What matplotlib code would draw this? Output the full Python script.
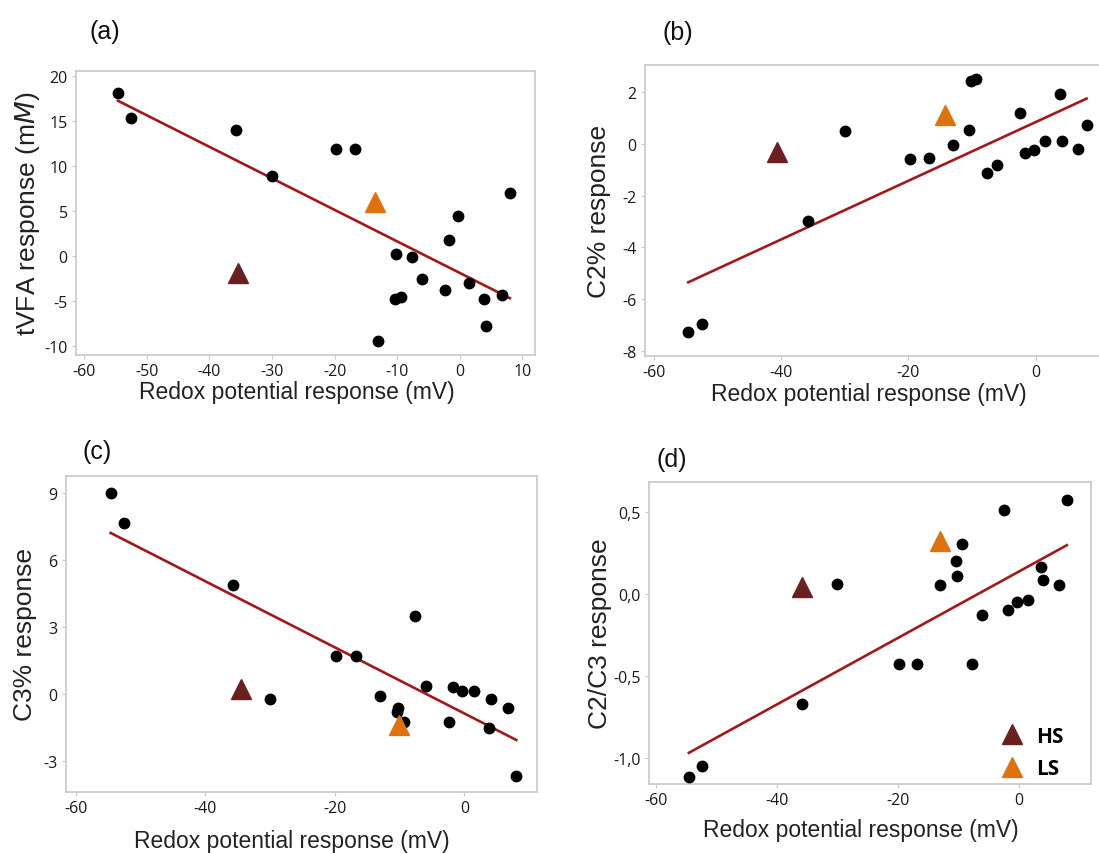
import matplotlib
matplotlib.use('Agg')
import matplotlib.pyplot as plt
from matplotlib.lines import Line2D

plt.rcParams['axes.unicode_minus'] = False
plt.rcParams['font.family'] = ['Liberation Sans', 'DejaVu Sans']

# redox potential response (mV), shared by all panels
redox = [-54.6, -52.5, -35.8, -30.0, -19.8, -16.8, -13.0, -10.4, -10.2, -9.4,
         -7.7, -6.0, -2.4, -1.7, -0.3, 1.5, 3.8, 4.1, 6.7, 8.0]

tvfa = [18.1, 15.3, 14.0, 8.9, 11.9, 11.9, -9.5, -4.8, 0.2, -4.6,
        -0.1, -2.6, -3.8, 1.7, 4.4, -3.0, -4.8, -7.8, -4.4, 7.0]
c2 = [-7.26, -6.96, -2.97, 0.48, -0.60, -0.54, -0.05, 0.55, 2.43, 2.49,
      -1.13, -0.81, 1.20, -0.37, -0.25, 0.10, 1.91, 0.13, -0.19, 0.74]
c3 = [8.97, 7.66, 4.89, -0.24, 1.70, 1.70, -0.09, -0.80, -0.63, -1.25,
      3.49, 0.36, -1.28, 0.31, 0.12, 0.12, -1.52, -0.24, -0.63, -3.68]
c2c3 = [-1.12, -1.05, -0.67, 0.06, -0.43, -0.43, 0.05, 0.20, 0.11, 0.30,
        -0.43, -0.13, 0.51, -0.10, -0.05, -0.04, 0.16, 0.08, 0.05, 0.57]

# group means (HS / LS) per panel: (x, y)
hs_pts = [(-35.4, -1.95), (-40.6, -0.30), (-34.5, 0.20), (-35.8, 0.04)]
ls_pts = [(-13.6, 6.0), (-14.3, 1.10), (-10.1, -1.38), (-13.0, 0.32)]

# fitted line end points per panel
fit_x = [-54.6, 8.0]
fit_y = [[17.2, -4.7], [-5.35, 1.75], [7.2, -2.07], [-0.97, 0.295]]

ylabels = ['tVFA response (m$\\it{M}$)', 'C2% response', 'C3% response', 'C2/C3 response']
panel_tags = ['(a)', '(b)', '(c)', '(d)']
xticks = [[-60, -50, -40, -30, -20, -10, 0, 10], [-60, -40, -20, 0],
          [-60, -40, -20, 0], [-60, -40, -20, 0]]
yticks = [[-10, -5, 0, 5, 10, 15, 20], [-8, -6, -4, -2, 0, 2],
          [-3, 0, 3, 6, 9], [-1.0, -0.5, 0.0, 0.5]]
xlims = [(-61.3, 12.0), (-61.4, 12.0), (-61.5, 11.2), (-61.2, 12.0)]
ylims = [(-11.0, 20.5), (-8.2, 3.05), (-4.4, 9.75), (-1.16, 0.68)]
series = [tvfa, c2, c3, c2c3]

W, H = 1099, 854
# axes boxes in pixels: left, right, top, bottom
boxes = [(76, 535, 72, 356), (645, 1112, 66, 357), (66, 537, 477, 793), (649, 1091, 483, 785)]
tag_pos = [(105, 32), (678, 33), (97, 452), (672, 460)]
ylab_x = [28, 599, 25, 600]
xlab_y = [393, 395, 842, 831]

fig = plt.figure(figsize=(W / 100, H / 100), dpi=100)

HS_COL = '#6b2020'
LS_COL = '#e0720e'
LINE_COL = '#a31818'
FRAME = '#c8c8c8'

for i in range(4):
    l, r, t, b = boxes[i]
    ax = fig.add_axes([l / W, (H - b) / H, (r - l) / W, (b - t) / H])
    ax.plot(fit_x, fit_y[i], '-', color=LINE_COL, lw=1.9, zorder=2)
    ax.plot(redox, series[i], 'o', color='black', ms=7.5, zorder=3)
    ax.plot(hs_pts[i][0], hs_pts[i][1], '^', color=HS_COL, ms=15, zorder=4)
    ax.plot(ls_pts[i][0], ls_pts[i][1], '^', color=LS_COL, ms=15, zorder=4)

    ax.set_xlim(xlims[i])
    ax.set_ylim(ylims[i])
    ax.set_xticks(xticks[i])
    ax.set_yticks(yticks[i])
    if i == 3:
        ax.set_yticklabels([('%.1f' % v).replace('.', ',') for v in yticks[i]])
    for s in ax.spines.values():
        s.set_color(FRAME)
        s.set_linewidth(1.2)
    ax.tick_params(direction='out', length=3, color=FRAME, labelsize=11.5,
                   labelcolor='#1a1a1a', pad=3)
    for lab in ax.get_xticklabels() + ax.get_yticklabels():
        lab.set_family(['Open Sans', 'DejaVu Sans'])

    ax.set_ylabel(ylabels[i], fontsize=19, color='#222222', va='center')
    ax.yaxis.set_label_coords((ylab_x[i] - l) / (r - l), 0.5)
    ax.set_xlabel('Redox potential response (mV)', fontsize=16.5, color='#222222', va='center')
    ax.xaxis.set_label_coords(0.48, (b - xlab_y[i]) / (b - t))

    fig.text(tag_pos[i][0] / W, 1 - tag_pos[i][1] / H, panel_tags[i],
             fontsize=18, ha='center', va='center', color='#111111')

    if i == 3:
        handles = [Line2D([], [], ls='none', marker='^', color=HS_COL, ms=15),
                   Line2D([], [], ls='none', marker='^', color=LS_COL, ms=15)]
        ax.legend(handles, ['HS', 'LS'], loc='lower right', frameon=False,
                  bbox_to_anchor=((1064 - l) / (r - l), (b - 780) / (b - t)),
                  prop={'family': 'Open Sans', 'weight': 'bold', 'size': 15},
                  handletextpad=0.2, labelspacing=0.55, borderaxespad=0, borderpad=0)

plt.savefig('out.png', dpi=100)
